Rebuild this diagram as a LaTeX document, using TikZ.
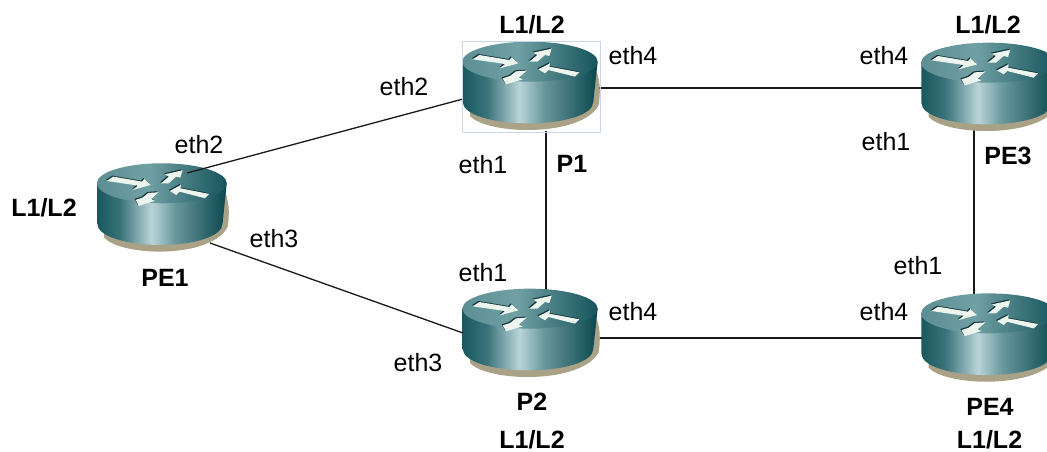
\documentclass[tikz,border=0pt]{standalone}
\usepackage{fontspec}
\setmainfont{Liberation Sans}
\definecolor{shadowc}{HTML}{AAA287}
\definecolor{framec}{HTML}{C9D6EA}
\definecolor{ba}{RGB}{24,88,94}
\definecolor{bb}{RGB}{58,116,122}
\definecolor{bc}{RGB}{186,212,216}
\definecolor{bd}{RGB}{104,152,157}
\definecolor{be}{RGB}{10,70,78}
\definecolor{ta}{RGB}{92,142,147}
\definecolor{tb}{RGB}{112,160,164}
\definecolor{tc}{RGB}{22,84,92}
\definecolor{arl}{RGB}{236,244,238}
\definecolor{ard}{RGB}{18,52,58}
\pgfdeclarehorizontalshading{rbody}{100bp}{color(0bp)=(ba); color(25bp)=(ba); color(34bp)=(bb); color(46bp)=(bc); color(55bp)=(bd); color(75bp)=(be); color(100bp)=(be)}
\pgfdeclarehorizontalshading{rtop}{100bp}{color(0bp)=(ta); color(25bp)=(ta); color(45bp)=(tb); color(75bp)=(tc); color(100bp)=(tc)}
\tikzset{
  lbl/.style={font=\fontsize{25}{26}\selectfont,text height=18pt,text depth=0pt,inner sep=0pt},
  blbl/.style={lbl,font=\fontsize{25}{26}\selectfont\bfseries},
  link/.style={draw=black!90,line width=2pt},
  thin link/.style={draw=black!90,line width=1.3pt},
  routerbox/.style={inner sep=0pt,minimum width=137pt,minimum height=90pt},
  arrowlight/.style={fill=arl,draw=none},
  arrowdark/.style={fill=ard,draw=none}
}
\newcommand{\arrowset}[1]{%
  \fill[#1] (68,88) -- (88,75) -- (178,90) -- (185,82) -- (205,100) -- (150,115) -- (165,102) -- cycle;
  \fill[#1] (238,95) -- (262,75) -- (250,68) -- (305,56) -- (298,78) -- (285,75) -- (262,95) -- cycle;
  \fill[#1] (265,118) -- (300,100) -- (298,110) -- (388,127) -- (375,140) -- (295,120) -- (285,130) -- cycle;
  \fill[#1] (158,145) -- (180,138) -- (198,124) -- (230,122) -- (207,142) -- (218,148) -- (168,163) -- cycle;
}
% #1 name, #2 origin x, #3 origin y, #4 x-scale
\newcommand{\routerat}[4]{%
  \begin{scope}[shift={(#2,#3)},x=#4pt/3,y=-1pt/3]
    \fill[shadowc] (60,215) -- (60,258) .. controls (85,285) and (160,300) .. (232,300) .. controls (340,300) and (425,270) .. (446,225) .. controls (452,190) and (452,140) .. (430,105) -- cycle;
    \shade[shading=rbody] (38,95) -- (38,215) .. controls (38,255) and (130,280) .. (235,280) .. controls (340,280) and (430,255) .. (430,215) -- (443,95) -- cycle;
    \shade[shading=rtop] (240,95) ellipse[x radius=203,y radius=60];
    \begin{scope}[shift={(-3,-3)}]
      \arrowset{arrowdark}
    \end{scope}
    \arrowset{arrowlight}
  \end{scope}
  \node[routerbox] (#1) at ({#2+81.3},{#3+56.8}) {};
}
\begin{document}
\begin{tikzpicture}[x=1pt,y=-1pt]
\useasboundingbox (0,0) rectangle (1047,451);
\fill[white] (0,0) rectangle (1047,451);
\begin{scope}
\clip (0,0) rectangle (1047,451);
\coordinate (pe1a) at (187,173);
\coordinate (pe1b) at (210,243);
\coordinate (p1w) at (463,99);
\coordinate (p2w) at (463,333);
\coordinate (p1s) at (546,131);
\coordinate (p2n) at (546,290);
\coordinate (p1e) at (597,87.5);
\coordinate (pe3w) at (922,87.5);
\coordinate (p2e) at (597,337.5);
\coordinate (pe4w) at (922,337.5);
\coordinate (pe3s) at (974,130);
\coordinate (pe4n) at (974,296);
\draw[link] (p1s) -- (p2n);
\draw[link] (p1e) -- (pe3w);
\draw[link] (p2e) -- (pe4w);
\draw[link] (pe3s) -- (pe4n);
\routerat{pe3}{908.7}{31}{1}
\routerat{pe4}{908.7}{281.7}{1}
\routerat{p2}{450}{277}{1}
\routerat{p1}{450}{30}{1}
\routerat{pe1}{85}{151.6}{0.96}
\draw[thin link] (pe1a) -- (p1w);
\draw[thin link] (pe1b) -- (p2w);
\draw[framec,line width=1pt] (p1.north west) rectangle (p1.south east);
\end{scope}
\foreach \n/\x/\y/\t in {a/404/86/eth2,b/199/144/eth2,c/274/238/eth3,d/418/362/eth3,e/483/164/eth1,f/483/272/eth1,g/633/55/eth4,h/633/311/eth4,i/884/55/eth4,j/886/141/eth1,k/918/265/eth1,l/884/311/eth4}
  \node[lbl] (t\n) at (\x,\y) {\t};
\foreach \n/\x/\y/\t in {a/532/24/{L1/L2},b/988/24/{L1/L2},c/44/207/{L1/L2},d/572/163/P1,e/1008/155/PE3,f/165/277/PE1,g/532/401/P2,h/532/439/{L1/L2},i/990/406/PE4,j/989.5/439/{L1/L2}}
  \node[blbl] (u\n) at (\x,\y) {\t};
\end{tikzpicture}
\end{document}
